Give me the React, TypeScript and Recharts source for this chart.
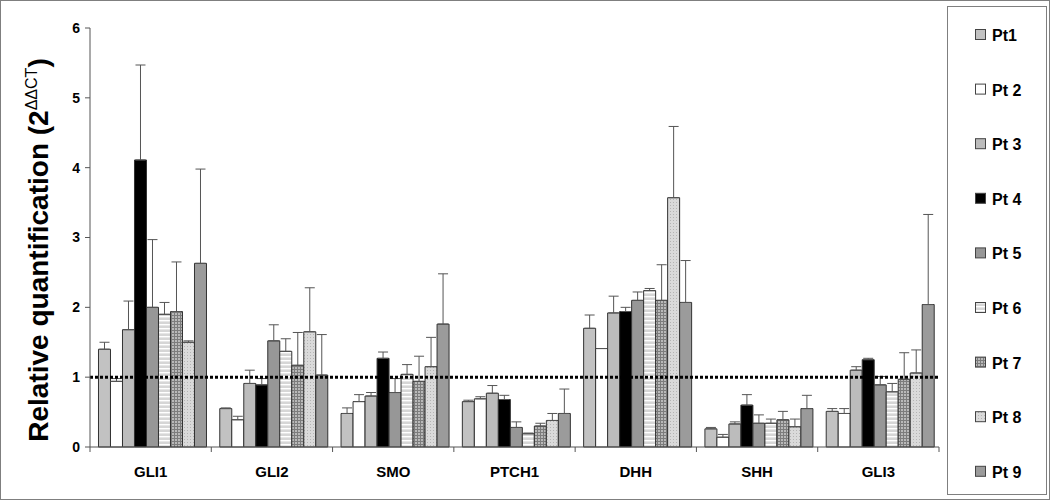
import React from 'react';
import { BarChart, Bar, XAxis, YAxis, ErrorBar, ReferenceLine } from 'recharts';

const genes = ['GLI1', 'GLI2', 'SMO', 'PTCH1', 'DHH', 'SHH', 'GLI3'];
const patients = ['Pt1', 'Pt 2', 'Pt 3', 'Pt 4', 'Pt 5', 'Pt 6', 'Pt 7', 'Pt 8', 'Pt 9'];
const yTicks = [0, 1, 2, 3, 4, 5, 6];

const pt1 = [1.40, 0.55, 0.48, 0.65, 1.70, 0.26, 0.51];
const pt2 = [0.94, 0.39, 0.65, 0.69, 1.41, 0.14, 0.48];
const pt3 = [1.68, 0.91, 0.73, 0.77, 1.92, 0.33, 1.10];
const pt4 = [4.11, 0.89, 1.27, 0.68, 1.94, 0.60, 1.25];
const pt5 = [2.00, 1.52, 0.78, 0.28, 2.10, 0.34, 0.89];
const pt6 = [1.90, 1.37, 1.04, 0.19, 2.24, 0.34, 0.79];
const pt7 = [1.94, 1.17, 0.94, 0.30, 2.10, 0.39, 0.97];
const pt8 = [1.50, 1.65, 1.15, 0.38, 3.57, 0.29, 1.06];
const pt9 = [2.63, 1.03, 1.76, 0.48, 2.07, 0.55, 2.04];

const pt1Err = [0.10, 0.01, 0.08, 0.02, 0.19, 0.02, 0.04];
const pt2Err = [0.04, 0.05, 0.10, 0.03, 0.00, 0.04, 0.07];
const pt3Err = [0.41, 0.19, 0.05, 0.11, 0.24, 0.03, 0.05];
const pt4Err = [1.36, 0.09, 0.09, 0.06, 0.06, 0.15, 0.02];
const pt5Err = [0.97, 0.23, 0.20, 0.08, 0.12, 0.12, 0.12];
const pt6Err = [0.17, 0.18, 0.14, 0.01, 0.03, 0.06, 0.12];
const pt7Err = [0.71, 0.47, 0.36, 0.04, 0.51, 0.12, 0.38];
const pt8Err = [0.02, 0.63, 0.42, 0.10, 1.02, 0.11, 0.33];
const pt9Err = [1.35, 0.58, 0.72, 0.35, 0.60, 0.19, 1.29];

const values = [pt1, pt2, pt3, pt4, pt5, pt6, pt7, pt8, pt9];
const errors = [pt1Err, pt2Err, pt3Err, pt4Err, pt5Err, pt6Err, pt7Err, pt8Err, pt9Err];

const data = genes.map((g, i) => {
  const row: any = { gene: g };
  values.forEach((v, k) => {
    row['p' + k] = v[i];
    row['e' + k] = [0, errors[k][i]];
  });
  return row;
});

const FONT = '"Liberation Sans", Arial, Helvetica, sans-serif';
const CHART_W = 1050;
const CHART_H = 500;
const MARGIN = { top: 28, right: 111, bottom: 23, left: 0 };
const Y_AXIS_W = 90;
const X_AXIS_H = 30;
const PLOT_LEFT = MARGIN.left + Y_AXIS_W;
const PLOT_RIGHT = CHART_W - MARGIN.right;
const PLOT_BOTTOM = CHART_H - MARGIN.bottom - X_AXIS_H;
const BAND = (PLOT_RIGHT - PLOT_LEFT) / genes.length;

const fillFor = (prefix: string) => [
  '#c2c2c2',
  '#ffffff',
  '#bcbcbc',
  '#000000',
  '#979797',
  `url(#${prefix}pat6)`,
  `url(#${prefix}pat7)`,
  `url(#${prefix}pat8)`,
  '#9b9b9b',
];

function Patterns({ prefix }: { prefix: string }) {
  return (
    <defs>
      <pattern id={`${prefix}pat6`} width={4} height={4} patternUnits="userSpaceOnUse">
        <rect x={0} y={0} width={4} height={4} fill="#d6d6d6" />
        <rect x={0} y={0} width={4} height={1.4} fill="#ffffff" />
      </pattern>
      <pattern id={`${prefix}pat7`} width={3} height={3} patternUnits="userSpaceOnUse">
        <rect x={0} y={0} width={3} height={3} fill="#b9b9b9" />
        <rect x={0} y={0} width={3} height={1} fill="#7c7c7c" />
        <rect x={0} y={0} width={1} height={3} fill="#7c7c7c" />
      </pattern>
      <pattern id={`${prefix}pat8`} width={3} height={3} patternUnits="userSpaceOnUse">
        <rect x={0} y={0} width={3} height={3} fill="#dadada" />
        <rect x={1} y={1} width={1} height={1} fill="#b4b4b4" />
      </pattern>
    </defs>
  );
}

function GeneTick(props: any) {
  const { x, payload } = props;
  const isLast = payload.value === genes[genes.length - 1];
  return (
    <g>
      <line x1={x - BAND / 2} x2={x - BAND / 2} y1={PLOT_BOTTOM} y2={PLOT_BOTTOM + 5} stroke="#555" />
      {isLast && (
        <line x1={x + BAND / 2} x2={x + BAND / 2} y1={PLOT_BOTTOM} y2={PLOT_BOTTOM + 5} stroke="#555" />
      )}
      <text x={x} y={PLOT_BOTTOM + 30} textAnchor="middle" fontFamily={FONT} fontWeight="bold" fontSize={15} fill="#000">
        {payload.value}
      </text>
    </g>
  );
}

function YLabel() {
  return (
    <text
      transform="translate(48,250) rotate(-90)"
      textAnchor="middle"
      fontFamily={FONT}
      fontWeight="bold"
      fontSize={28}
      fill="#000"
    >
      Relative quantification (2
      <tspan fontSize={16} fontWeight="normal" dy={-11}>ΔΔCT</tspan>
      <tspan dy={11}>)</tspan>
    </text>
  );
}

function LegendBox() {
  const fills = fillFor('lg');
  return (
    <svg
      width={100}
      height={489}
      style={{ position: 'absolute', left: 947, top: 6 }}
    >
      <Patterns prefix="lg" />
      <rect x={0.5} y={0.5} width={99} height={488} fill="#fff" stroke="#7f7f7f" />
      {patients.map((p, i) => {
        const cy = 29 + i * 54.6;
        return (
          <g key={p}>
            <rect x={28.5} y={cy - 5.5} width={10} height={10} fill={fills[i]} stroke="#444" />
            <text x={45} y={cy + 6} fontFamily={FONT} fontWeight="bold" fontSize={16} fill="#000">
              {p}
            </text>
          </g>
        );
      })}
    </svg>
  );
}

export default function App() {
  const fills = fillFor('');
  return (
    <div style={{ position: 'absolute', left: 0, top: 0, width: CHART_W, height: CHART_H, background: '#fff' }}>
      <BarChart
        width={CHART_W}
        height={CHART_H}
        data={data}
        margin={MARGIN}
        barCategoryGap="7%"
        barGap={0}
      >
        <Patterns prefix="" />
        <XAxis
          dataKey="gene"
          height={X_AXIS_H}
          interval={0}
          tickLine={false}
          axisLine={{ stroke: '#555' }}
          tick={<GeneTick />}
        />
        <XAxis
          xAxisId="top"
          orientation="top"
          dataKey="gene"
          height={0}
          tick={false}
          tickLine={false}
          axisLine={{ stroke: '#aaa' }}
        />
        <YAxis
          width={Y_AXIS_W}
          domain={[0, 6]}
          ticks={yTicks}
          interval={0}
          tickSize={5}
          tickMargin={5}
          axisLine={{ stroke: '#555' }}
          tickLine={{ stroke: '#555' }}
          tick={{ fill: '#000', fontSize: 14, fontWeight: 'bold', fontFamily: FONT }}
          label={{ content: () => <YLabel /> }}
        />
        <YAxis
          yAxisId="right"
          orientation="right"
          width={0}
          domain={[0, 6]}
          tick={false}
          tickLine={false}
          axisLine={{ stroke: '#aaa' }}
        />
        {patients.map((p, k) => (
          <Bar
            key={p}
            dataKey={'p' + k}
            name={p}
            fill={fills[k]}
            stroke="#333"
            strokeWidth={1}
            isAnimationActive={false}
          >
            <ErrorBar dataKey={'e' + k} direction="y" width={5} stroke="#555" strokeWidth={1} />
          </Bar>
        ))}
        <ReferenceLine y={1} stroke="#000" strokeWidth={3} strokeDasharray="3 2" ifOverflow="visible" />
      </BarChart>
      <LegendBox />
      <div
        style={{
          position: 'absolute',
          left: 0,
          top: 0,
          width: CHART_W,
          height: CHART_H,
          border: '1px solid #7f7f7f',
          boxSizing: 'border-box',
          pointerEvents: 'none',
        }}
      />
    </div>
  );
}
